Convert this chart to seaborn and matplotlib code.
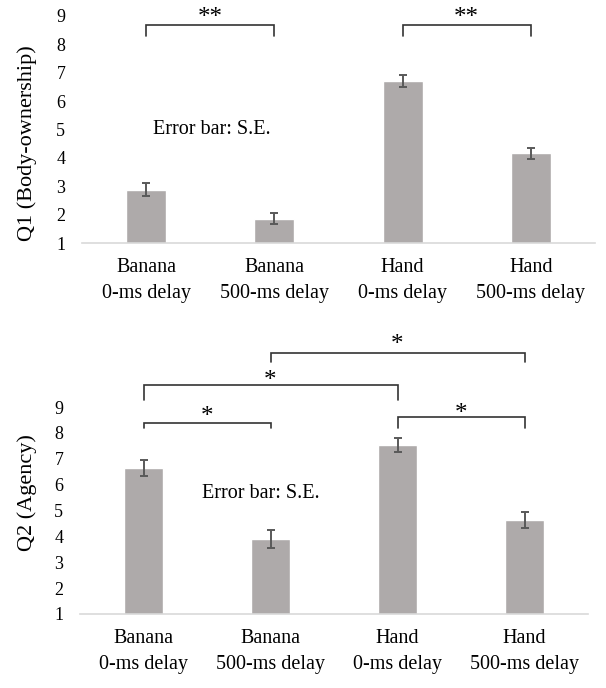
import matplotlib
matplotlib.use("Agg")
import matplotlib.pyplot as plt
import seaborn as sns
import pandas as pd

# ---- data ----
categories = ["Banana\n0-ms delay", "Banana\n500-ms delay", "Hand\n0-ms delay", "Hand\n500-ms delay"]
q1_mean = [2.88, 1.85, 6.71, 4.16]
q1_se = [0.22, 0.19, 0.22, 0.19]
q2_mean = [6.64, 3.90, 7.53, 4.63]
q2_se = [0.32, 0.36, 0.28, 0.31]
y_ticks = [1, 2, 3, 4, 5, 6, 7, 8, 9]

# significance brackets: (from, to, line y, tick-bottom y, label, label baseline y)
q1_sig = [(0, 1, 8.68, 8.29, "**", 8.73),
          (2, 3, 8.68, 8.29, "**", 8.73)]
q2_sig = [(1, 3, 11.08, 10.73, "*", 11.15),
          (0, 2, 9.84, 9.26, "*", 9.76),
          (0, 1, 8.37, 8.18, "*", 8.37),
          (2, 3, 8.61, 8.18, "*", 8.49)]

BAR = "#AEAAAA"
ERR = "#595959"
AXIS = "#D9D9D9"

sns.set_theme(style="white")
plt.rcParams["font.family"] = ["Liberation Serif", "DejaVu Serif"]
plt.rcParams["text.color"] = "black"

fig = plt.figure(figsize=(6.06, 6.88), dpi=100)
W, H = 606, 688
ax1 = fig.add_axes([82 / W, (H - 243) / H, 513 / W, 227 / H])
ax2 = fig.add_axes([80 / W, (H - 614) / H, 508 / W, 207 / H])


def panel(ax, means, ses, sig, ylabel, ylab_xy, err_xy):
    df = pd.DataFrame({"cond": categories, "score": means})
    sns.barplot(data=df, x="cond", y="score", color=BAR, saturation=1,
                width=0.31, errorbar=None, ax=ax)
    ax.errorbar(range(len(means)), means, yerr=ses, fmt="none", ecolor=ERR,
                elinewidth=1.4, capsize=2.6, capthick=1.4, zorder=3)
    ax.set_ylim(1, 9)
    ax.set_xlim(-0.5, len(means) - 0.5)
    ax.set_yticks(y_ticks)
    ax.set_yticklabels([str(t) for t in y_ticks], fontsize=13)
    ax.set_xlabel("")
    ax.set_ylabel("")
    for s in ["left", "top", "right"]:
        ax.spines[s].set_visible(False)
    ax.spines["bottom"].set_color(AXIS)
    ax.spines["bottom"].set_linewidth(1.2)
    ax.tick_params(axis="y", length=0, pad=12, labelcolor="black")
    ax.tick_params(axis="x", length=0, pad=11, labelsize=14.5, labelcolor="black")
    for lbl in ax.get_xticklabels():
        lbl.set_linespacing(1.5)
    for i, j, yl, yb, txt, ys in sig:
        ax.plot([i, i, j, j], [yb, yl, yl, yb], color="#333333", lw=1.2,
                clip_on=False, solid_joinstyle="miter")
        ax.text((i + j) / 2, ys, txt, ha="center", va="baseline",
                fontsize=18, clip_on=False)
    ax.text(ylab_xy[0], ylab_xy[1], ylabel, transform=ax.transAxes,
            rotation=90, ha="center", va="center", fontsize=16)
    ax.text(err_xy[0], err_xy[1], "Error bar: S.E.", ha="left", va="center",
            fontsize=14.5)


panel(ax1, q1_mean, q1_se, q1_sig, "Q1 (Body-ownership)", (-0.107, 0.44), (0.05, 5.0))
panel(ax2, q2_mean, q2_se, q2_sig, "Q2 (Agency)", (-0.104, 0.589), (0.46, 5.67))

fig.savefig("out.png", dpi=100)
